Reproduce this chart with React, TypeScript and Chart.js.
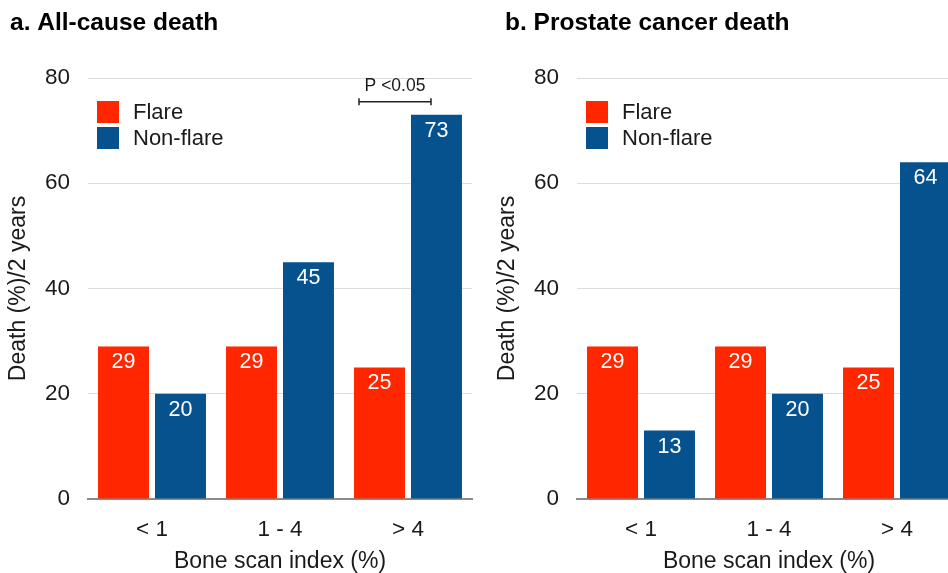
import React, { useEffect, useRef } from 'react';
import { Chart, registerables } from 'chart.js';

Chart.register(...registerables);

const categories = ['< 1', '1 - 4', '> 4'];
const seriesNames = ['Flare', 'Non-flare'];
const allCauseFlare = [29, 29, 25];
const allCauseNonFlare = [20, 45, 73];
const prostateFlare = [29, 29, 25];
const prostateNonFlare = [13, 20, 64];
const yTicks = [0, 20, 40, 60, 80];
const panelTitles = ['a. All-cause death', 'b. Prostate cancer death'];
const yAxisTitle = 'Death (%)/2 years';
const xAxisTitle = 'Bone scan index (%)';
const pLabel = 'P <0.05';

const RED = '#FF2600';
const BLUE = '#05528F';
const TEXT = '#1a1a1a';
const FONT = '"Liberation Sans", Arial, Helvetica, sans-serif';

type PanelProps = {
  title: string;
  flare: number[];
  nonFlare: number[];
  showP: boolean;
  left: number;
  titleX: number;
};

function Panel({ title, flare, nonFlare, showP, left, titleX }: PanelProps) {
  const ref = useRef<HTMLCanvasElement | null>(null);

  useEffect(() => {
    const canvas = ref.current;
    if (!canvas) return;

    const decorations = {
      id: 'decorations',
      afterDatasetsDraw(chart: any) {
        const ctx = chart.ctx;
        const area = chart.chartArea;
        ctx.save();
        // value labels inside bars
        ctx.font = `21.5px ${FONT}`;
        ctx.fillStyle = '#ffffff';
        ctx.textAlign = 'center';
        ctx.textBaseline = 'middle';
        chart.data.datasets.forEach((ds: any, i: number) => {
          const meta = chart.getDatasetMeta(i);
          meta.data.forEach((el: any, j: number) => {
            ctx.fillText(String(ds.data[j]), el.x, el.y + 16);
          });
        });
        // legend inside plot area
        chart.data.datasets.forEach((ds: any, i: number) => {
          const sy = area.top + 23 + i * 26;
          ctx.fillStyle = ds.backgroundColor;
          ctx.fillRect(area.left + 9, sy, 22, 22);
          ctx.fillStyle = TEXT;
          ctx.font = `22px ${FONT}`;
          ctx.textAlign = 'left';
          ctx.textBaseline = 'middle';
          ctx.fillText(ds.label, area.left + 45, sy + 12);
        });
        // significance bracket
        if (showP) {
          const xc = chart.scales.x.getPixelForValue(2);
          const bar = chart.getDatasetMeta(1).data[2];
          const by = bar.y - 13;
          const x1 = xc - 49;
          const x2 = xc + 23;
          ctx.strokeStyle = '#222222';
          ctx.lineWidth = 1.5;
          ctx.beginPath();
          ctx.moveTo(x1, by);
          ctx.lineTo(x2, by);
          ctx.moveTo(x1, by - 3.5);
          ctx.lineTo(x1, by + 3.5);
          ctx.moveTo(x2, by - 3.5);
          ctx.lineTo(x2, by + 3.5);
          ctx.stroke();
          ctx.fillStyle = TEXT;
          ctx.font = `17.5px ${FONT}`;
          ctx.textAlign = 'center';
          ctx.textBaseline = 'middle';
          ctx.fillText(pLabel, (x1 + x2) / 2, by - 16);
        }
        ctx.restore();
      },
      afterDraw(chart: any) {
        const ctx = chart.ctx;
        ctx.save();
        ctx.fillStyle = '#000000';
        ctx.font = `bold 24.5px ${FONT}`;
        ctx.textAlign = 'left';
        ctx.textBaseline = 'middle';
        ctx.fillText(title, titleX, 23);
        ctx.restore();
      },
    };

    const chart = new Chart(canvas, {
      type: 'bar',
      data: {
        labels: categories,
        datasets: [
          {
            label: seriesNames[0],
            data: flare,
            backgroundColor: RED,
            categoryPercentage: 0.89,
            barPercentage: 0.895,
          },
          {
            label: seriesNames[1],
            data: nonFlare,
            backgroundColor: BLUE,
            categoryPercentage: 0.89,
            barPercentage: 0.895,
          },
        ],
      },
      options: {
        animation: false,
        responsive: false,
        layout: { padding: { top: 78, left: 0, right: 18, bottom: 0 } },
        plugins: {
          legend: { display: false },
          tooltip: { enabled: false },
          title: { display: false },
        },
        scales: {
          x: {
            grid: { display: false, drawTicks: false },
            border: { display: true, color: '#8c8c8c', width: 2 },
            ticks: { color: TEXT, font: { family: FONT, size: 22.5 }, padding: 17 },
            title: {
              display: true,
              text: xAxisTitle,
              color: TEXT,
              font: { family: FONT, size: 23, lineHeight: 1.0 },
              padding: { top: 0, bottom: 0 },
            },
            afterFit: (s: any) => {
              s.height = 74;
            },
          },
          y: {
            min: 0,
            max: 80,
            afterBuildTicks: (s: any) => {
              s.ticks = yTicks.map((v) => ({ value: v }));
            },
            ticks: { color: TEXT, font: { family: FONT, size: 22.5 }, padding: 18 },
            grid: {
              color: (c: any) => (c.tick && c.tick.value === 0 ? 'rgba(0,0,0,0)' : '#dcdcdc'),
              lineWidth: 1,
              drawTicks: false,
            },
            border: { display: false },
            title: {
              display: true,
              text: yAxisTitle,
              color: TEXT,
              font: { family: FONT, size: 23 },
              padding: { top: 5, bottom: 0 },
            },
            afterFit: (s: any) => {
              s.width = 88;
            },
          },
        },
      },
      plugins: [decorations],
    } as any);

    return () => chart.destroy();
  }, [title, flare, nonFlare, showP, titleX]);

  return (
    <canvas
      ref={ref}
      width={490}
      height={573}
      style={{ position: 'absolute', left, top: 0, width: 490, height: 573 }}
    />
  );
}

export default function App() {
  return (
    <div
      style={{
        position: 'fixed',
        left: 0,
        top: 0,
        width: 948,
        height: 573,
        overflow: 'hidden',
        background: '#ffffff',
      }}
    >
      <Panel title={panelTitles[0]} flare={allCauseFlare} nonFlare={allCauseNonFlare} showP={true} left={0} titleX={10} />
      <Panel title={panelTitles[1]} flare={prostateFlare} nonFlare={prostateNonFlare} showP={false} left={489} titleX={16} />
    </div>
  );
}
